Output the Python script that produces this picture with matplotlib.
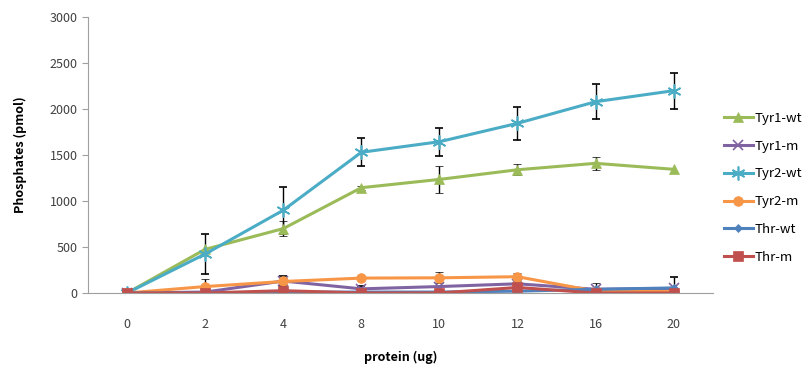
import numpy as np
import matplotlib
matplotlib.use("Agg")
import matplotlib.pyplot as plt

plt.rcParams['font.family'] = ['Noto Sans CJK KR', 'DejaVu Sans']

# data (pmol)
protein = ['0', '2', '4', '8', '10', '12', '16', '20']

tyr1_wt = [0, 475, 700, 1145, 1235, 1340, 1410, 1345]
tyr1_wt_err = [0, 0, 80, 20, 147, 62, 70, 0]
tyr1_m = [0, 10, 130, 45, 70, 100, 40, 50]
tyr1_m_err = [0, 0, 50, 30, 0, 0, 0, 120]
tyr2_wt = [0, 424, 900, 1530, 1645, 1845, 2080, 2200]
tyr2_wt_err = [0, 220, 255, 154, 154, 178, 190, 195]
tyr2_m = [0, 70, 125, 162, 165, 177, 20, 15]
tyr2_m_err = [0, 80, 40, 0, 60, 45, 0, 0]
thr_wt = [0, 0, 10, 10, 10, 20, 40, 55]
thr_wt_err = [0, 0, 0, 0, 0, 0, 70, 0]
thr_m = [0, 0, 25, 0, 0, 60, 0, 0]
thr_m_err = [0, 0, 0, 0, 0, 0, 0, 0]

series = [
    ('Tyr1-wt', tyr1_wt, tyr1_wt_err, '#9BBB59', '^', 7),
    ('Tyr1-m', tyr1_m, tyr1_m_err, '#8064A2', 'x', 7),
    ('Tyr2-wt', tyr2_wt, tyr2_wt_err, '#4BACC6', (6, 2, 0), 10),
    ('Tyr2-m', tyr2_m, tyr2_m_err, '#F79646', 'o', 7),
    ('Thr-wt', thr_wt, thr_wt_err, '#4F81BD', 'D', 4),
    ('Thr-m', thr_m, thr_m_err, '#C0504D', 's', 7),
]

fig = plt.figure(figsize=(8.08, 3.72), dpi=100)
ax = fig.add_axes([0.109, 0.2124, 0.773, 0.7416])

x = np.arange(len(protein))
for name, vals, err, color, marker, ms in series:
    ax.errorbar(x, vals, yerr=[e if e else np.nan for e in err], color=color,
                ecolor='black', elinewidth=1, capsize=3, capthick=1,
                marker=marker, markersize=ms, linewidth=2.2, label=name,
                markeredgewidth=1.2 if marker in ('x', (6, 2, 0)) else 0.5)

ax.set_xlim(-0.5, len(protein) - 0.5)
ax.set_ylim(0, 3000)
ax.set_yticks(range(0, 3001, 500))
ax.set_xticks(x)
ax.set_xticklabels(protein)

for s in ('top', 'right'):
    ax.spines[s].set_visible(False)
ax.spines['left'].set_color('#A0A0A0')
ax.spines['bottom'].set_color('#A0A0A0')
ax.tick_params(axis='y', colors='#A0A0A0', labelcolor='#404040', labelsize=9, length=4)
ax.tick_params(axis='x', length=0, labelcolor='#404040', labelsize=9, pad=18)

ax.set_ylabel('Phosphates (pmol)', fontsize=9, fontweight='bold', labelpad=16)
ax.set_xlabel('protein (ug)', fontsize=9, fontweight='bold', labelpad=14)

handles, labels = ax.get_legend_handles_labels()
handles = [h[0] for h in handles]
ax.legend(handles, labels, loc='upper left', bbox_to_anchor=(1.003, 0.69),
          frameon=False, fontsize=9.5, handlelength=2.2, handletextpad=0.1,
          labelspacing=1.12, borderaxespad=0.3)

fig.savefig('out.png', dpi=100)
